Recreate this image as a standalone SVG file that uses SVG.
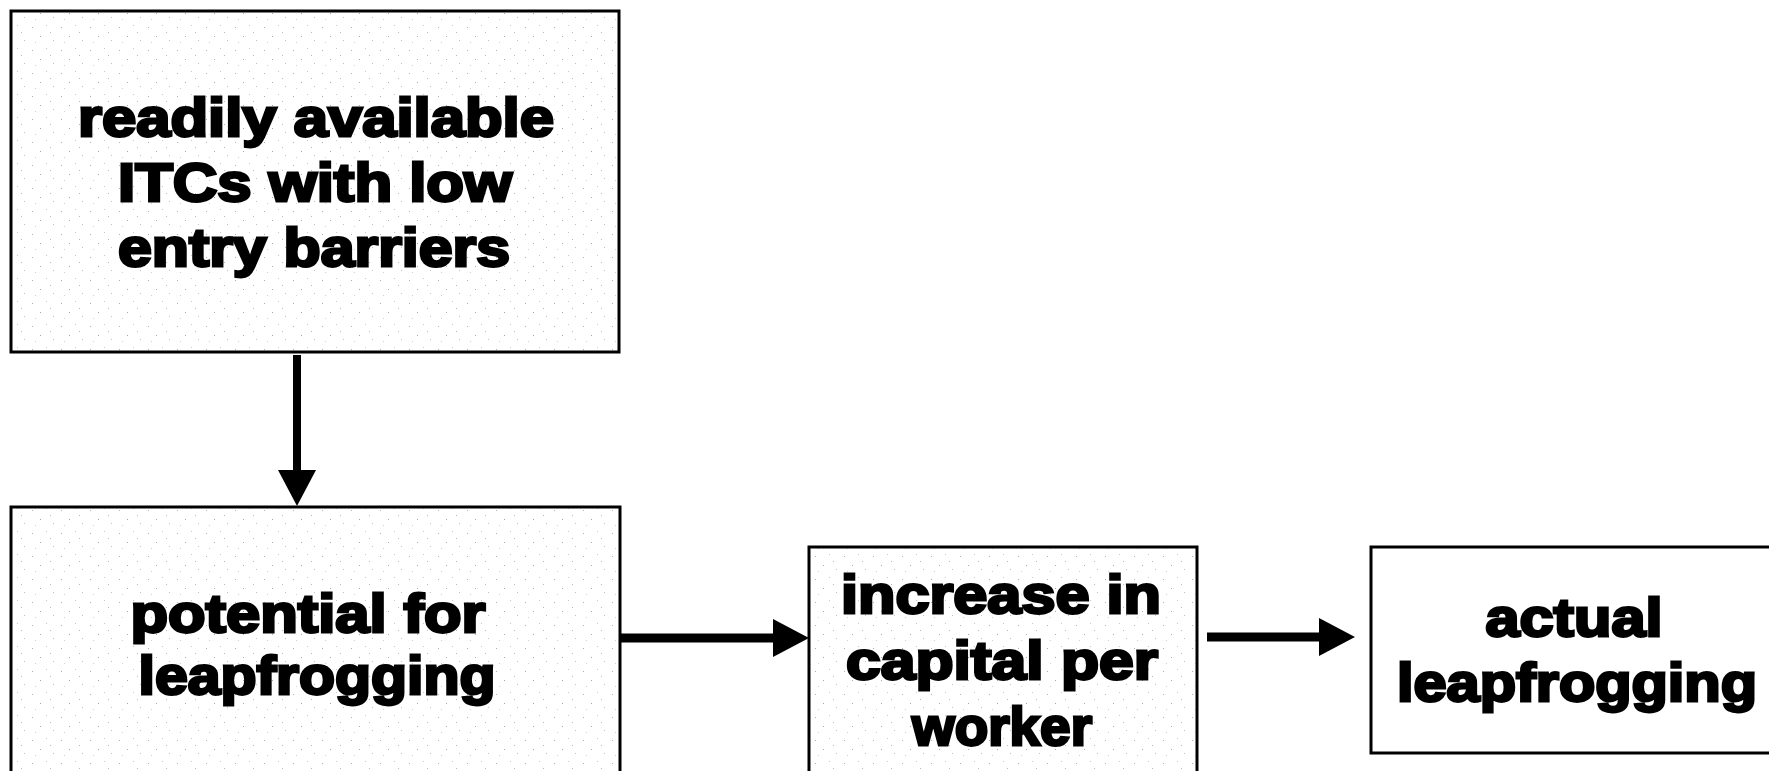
<svg xmlns="http://www.w3.org/2000/svg" width="1769" height="771" viewBox="0 0 1769 771">
  <style>
    .box { stroke: #000000; stroke-width: 3; }
    .lbl { font-family: "Liberation Sans", Arial, sans-serif; font-weight: bold; font-size: 53px; fill: #000000; stroke: #000000; stroke-width: 2.8; text-anchor: middle; }
    .conn { stroke: #000000; fill: none; }
  </style>
  <defs>
    <marker id="head" markerUnits="userSpaceOnUse" viewBox="0 0 36 38" markerWidth="36" markerHeight="38" refX="0" refY="19" orient="auto">
      <path d="M0,0 L36,19 L0,38 Z" fill="#000000"/>
    </marker>
    <pattern id="speckle" patternUnits="userSpaceOnUse" width="29" height="23">
      <rect width="29" height="23" fill="#ffffff"/>
      <rect x="3" y="4" width="1" height="1" fill="#b0b0b0"/>
      <rect x="17" y="2" width="1" height="1" fill="#c8c8c8"/>
      <rect x="11" y="13" width="1" height="1" fill="#a8a8a8"/>
      <rect x="24" y="17" width="1" height="1" fill="#c0c0c0"/>
      <rect x="6" y="19" width="1" height="1" fill="#d0d0d0"/>
      <rect x="21" y="9" width="1" height="1" fill="#b8b8b8"/>
    </pattern>
  </defs>
  <rect x="0" y="0" width="1769" height="771" fill="#ffffff"/>

  <g id="node-itcs">
    <rect class="box" x="11" y="11" width="608" height="341" fill="url(#speckle)"/>
    <text class="lbl" x="316" y="136" textLength="476" lengthAdjust="spacingAndGlyphs">readily available</text>
    <text class="lbl" x="315" y="201" textLength="394" lengthAdjust="spacingAndGlyphs">ITCs with low</text>
    <text class="lbl" x="314" y="266" textLength="392" lengthAdjust="spacingAndGlyphs">entry barriers</text>
  </g>

  <g id="node-potential">
    <rect class="box" x="11" y="507" width="609" height="290" fill="url(#speckle)"/>
    <text class="lbl" x="308" y="632" textLength="355" lengthAdjust="spacingAndGlyphs">potential for</text>
    <text class="lbl" x="317" y="694" textLength="357" lengthAdjust="spacingAndGlyphs">leapfrogging</text>
  </g>

  <g id="node-capital">
    <rect class="box" x="809" y="547" width="388" height="250" fill="url(#speckle)"/>
    <text class="lbl" x="1001" y="613" textLength="320" lengthAdjust="spacingAndGlyphs">increase in</text>
    <text class="lbl" x="1002" y="679" textLength="312" lengthAdjust="spacingAndGlyphs">capital per</text>
    <text class="lbl" x="1002" y="745" textLength="180" lengthAdjust="spacingAndGlyphs">worker</text>
  </g>

  <g id="node-actual">
    <rect class="box" x="1371" y="547" width="420" height="206" fill="#ffffff"/>
    <text class="lbl" x="1574" y="636" textLength="177" lengthAdjust="spacingAndGlyphs">actual</text>
    <text class="lbl" x="1577" y="701" textLength="360" lengthAdjust="spacingAndGlyphs">leapfrogging</text>
  </g>

  <g id="connectors">
    <line class="conn" x1="297" y1="355" x2="297" y2="470" stroke-width="8" marker-end="url(#head)"/>
    <line class="conn" x1="621" y1="638" x2="773" y2="638" stroke-width="9" marker-end="url(#head)"/>
    <line class="conn" x1="1207" y1="637" x2="1319" y2="637" stroke-width="9" marker-end="url(#head)"/>
  </g>
</svg>
